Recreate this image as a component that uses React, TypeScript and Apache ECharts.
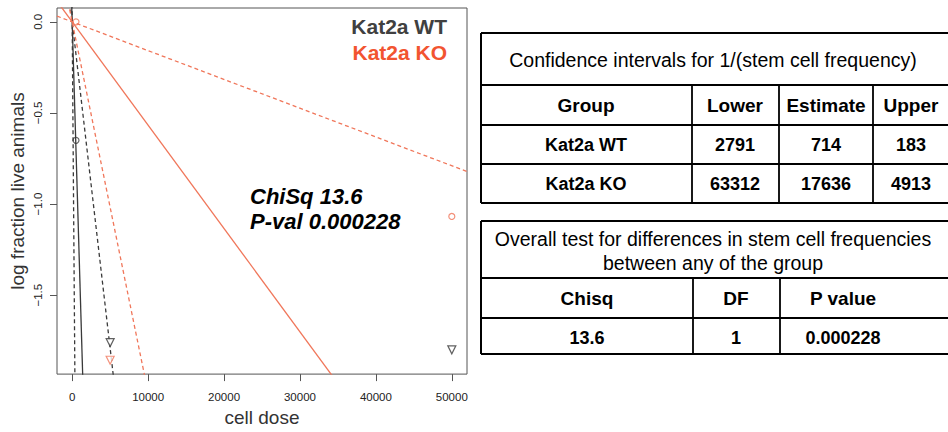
import React, { useEffect, useRef } from "react";
import * as echarts from "echarts";

// ---- data ----
const xTicks = [0, 10000, 20000, 30000, 40000, 50000];
const yTicks = [0, -0.5, -1.0, -1.5];
const groupNames = ["Kat2a WT", "Kat2a KO"];
const ciTitle = "Confidence intervals for 1/(stem cell frequency)";
const ciHeader = ["Group", "Lower", "Estimate", "Upper"];
const wtCI = [2791, 714, 183]; // lower, estimate, upper
const koCI = [63312, 17636, 4913];
const wtCircles = [[500, -0.65]];
const wtTriangles = [[5000, -1.76], [50000, -1.8]];
const koCircles = [[500, 0], [50000, -1.068]];
const koTriangles = [[5000, -1.857]];
const testTitle = ["Overall test for differences in stem cell frequencies", "between any of the group"];
const testHeader = ["Chisq", "DF", "P value"];
const testValues = ["13.6", "1", "0.000228"];
const chiSqText = "ChiSq 13.6";
const pValText = "P-val 0.000228";

const X_MIN = -2000;
const X_MAX = 52000;
const Y_MIN = -1.933;
const Y_MAX = 0.076;

const WT_COLOR = "#3a3a3a";
const KO_COLOR = "#f0765a";
const FONT = "'Liberation Sans', Arial, sans-serif";

function ciLine(v: number) {
  // ELDA fit: log fraction negative = -dose / (1/frequency)
  return [
    [X_MIN, -X_MIN / v],
    [X_MAX, -X_MAX / v],
  ];
}

function lineSeries(v: number, color: string, dashed: boolean) {
  return {
    type: "line",
    data: ciLine(v),
    symbol: "none",
    clip: true,
    silent: true,
    lineStyle: { color, width: 1.3, type: dashed ? [4, 3] : "solid" },
    z: 2,
  };
}

function hline(x1: number, x2: number, y: number, w = 2) {
  return { type: "line", shape: { x1, y1: y, x2, y2: y }, style: { stroke: "#000", lineWidth: w }, silent: true };
}
function vline(x: number, y1: number, y2: number, w = 2) {
  return { type: "line", shape: { x1: x, y1, x2: x, y2 }, style: { stroke: "#000", lineWidth: w }, silent: true };
}
function txt(text: string, x: number, y: number, font: string, fill = "#000", align = "center") {
  return {
    type: "text",
    silent: true,
    style: { text, x, y, font, fill, textAlign: align, verticalAlign: "middle" },
  };
}

function buildTables() {
  const els: any[] = [];
  // table 1
  const L = 481, R = 950;
  const r1 = [33, 85, 125, 164, 203];
  const c1 = [481, 692, 779, 873, R];
  r1.forEach((y) => els.push(hline(L, R, y)));
  els.push(vline(L, r1[0], r1[4]));
  c1.slice(1, 4).forEach((x) => els.push(vline(x, r1[1], r1[4], 1.8)));
  const cc1 = [586, 735, 826, 911];
  els.push(txt(ciTitle, 713, 60, `19.5px ${FONT}`));
  ciHeader.forEach((h, i) => els.push(txt(h, cc1[i], 105, `bold 19px ${FONT}`)));
  const rowsCI = [wtCI, koCI];
  rowsCI.forEach((vals, r) => {
    const y = r === 0 ? 144.5 : 183.5;
    els.push(txt(groupNames[r], cc1[0], y, `bold 18px ${FONT}`));
    vals.forEach((v, i) => els.push(txt(String(v), cc1[i + 1], y, `bold 18px ${FONT}`)));
  });
  // table 2
  const r2 = [221, 278, 318, 354];
  const c2 = [481, 693, 780, R];
  r2.forEach((y) => els.push(hline(L, R, y)));
  els.push(vline(L, r2[0], r2[3]));
  c2.slice(1, 3).forEach((x) => els.push(vline(x, r2[1], r2[3], 1.8)));
  const cc2 = [587, 736, 843];
  els.push(txt(testTitle[0], 713, 239, `19.5px ${FONT}`));
  els.push(txt(testTitle[1], 713, 263, `19.5px ${FONT}`));
  testHeader.forEach((h, i) => els.push(txt(h, cc2[i], 298, `bold 19px ${FONT}`)));
  testValues.forEach((v, i) => els.push(txt(v, cc2[i], 338, `bold 18px ${FONT}`)));
  // plot annotations
  els.push(txt(groupNames[0], 447, 26, `bold 21px ${FONT}`, "#404040", "right"));
  els.push(txt(groupNames[1], 447, 52, `bold 21px ${FONT}`, "#f25430", "right"));
  els.push(txt(chiSqText, 250, 196, `italic bold 22px ${FONT}`, "#000", "left"));
  els.push(txt(pValText, 250, 221, `italic bold 22px ${FONT}`, "#000", "left"));
  return els;
}

export default function App() {
  const ref = useRef<HTMLDivElement>(null);
  useEffect(() => {
    if (!ref.current) return;
    const chart = echarts.init(ref.current, undefined, { renderer: "svg" });
    const tri = (data: number[][], color: string) => ({
      type: "scatter",
      data,
      symbol: "triangle",
      symbolRotate: 180,
      symbolSize: 8,
      itemStyle: { color: "#fff", borderColor: color, borderWidth: 1.2 },
      z: 3,
      silent: true,
    });
    const circ = (data: number[][], color: string) => ({
      type: "scatter",
      data,
      symbol: "circle",
      symbolSize: 6,
      itemStyle: { color: "rgba(255,255,255,0)", borderColor: color, borderWidth: 1.2 },
      z: 3,
      silent: true,
    });
    chart.setOption({
      animation: false,
      backgroundColor: "#fff",
      textStyle: { fontFamily: FONT },
      grid: { left: 57, top: 8, width: 410, height: 371, show: true, borderColor: "#555", borderWidth: 1, backgroundColor: "transparent" },
      xAxis: {
        type: "value",
        min: X_MIN,
        max: X_MAX,
        name: "cell dose",
        nameLocation: "middle",
        nameGap: 33,
        nameTextStyle: { fontSize: 19, color: "#333", fontFamily: FONT },
        axisLine: { show: false, onZero: false },
        axisTick: { show: true, length: 7, customValues: xTicks, lineStyle: { color: "#555" } },
        axisLabel: {
          customValues: xTicks,
          fontSize: 11.5,
          color: "#222",
          margin: 17,
          fontFamily: FONT,
          formatter: (v: number) => String(v),
        },
        splitLine: { show: false },
      },
      yAxis: {
        type: "value",
        min: Y_MIN,
        max: Y_MAX,
        name: "log fraction live animals",
        nameLocation: "middle",
        nameGap: 30,
        nameTextStyle: { fontSize: 19, color: "#333", fontFamily: FONT },
        axisLine: { show: false, onZero: false },
        axisTick: { show: true, length: 7, customValues: yTicks, lineStyle: { color: "#555" } },
        axisLabel: {
          customValues: yTicks,
          rotate: 90,
          fontSize: 11.5,
          color: "#222",
          margin: 13,
          fontFamily: FONT,
          formatter: (v: number) => (v === 0 ? "0.0" : "\u2212" + Math.abs(v).toFixed(1)),
        },
        splitLine: { show: false },
      },
      series: [
        lineSeries(wtCI[1], WT_COLOR, false),
        lineSeries(wtCI[0], WT_COLOR, true),
        lineSeries(wtCI[2], WT_COLOR, true),
        lineSeries(koCI[1], KO_COLOR, false),
        lineSeries(koCI[0], KO_COLOR, true),
        lineSeries(koCI[2], KO_COLOR, true),
        circ(wtCircles, WT_COLOR),
        tri(wtTriangles, WT_COLOR),
        circ(koCircles, KO_COLOR),
        tri(koTriangles, KO_COLOR),
      ],
      graphic: buildTables(),
    });
    return () => chart.dispose();
  }, []);
  return <div ref={ref} style={{ position: "absolute", left: 0, top: 0, width: 948, height: 432 }} />;
}
